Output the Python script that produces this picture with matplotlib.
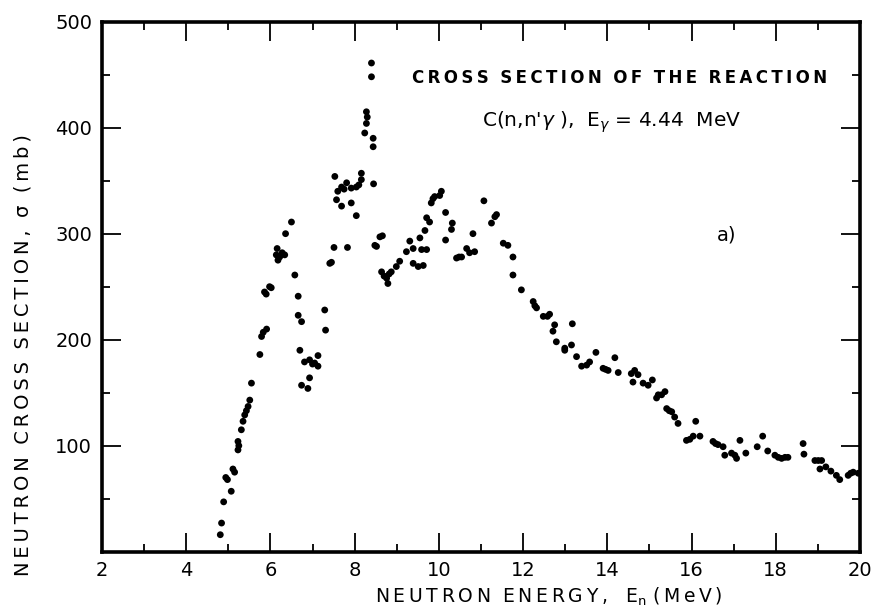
import matplotlib
matplotlib.use("Agg")
import matplotlib.pyplot as plt
from matplotlib.ticker import MultipleLocator

# 읽어낸 데이터 (중성자 에너지 MeV, 단면적 mb)
energy = [
    4.81, 4.84, 4.89, 4.94, 4.98, 5.07, 5.11, 5.15, 5.23, 5.23, 5.25, 5.31,
    5.35, 5.39, 5.43, 5.47, 5.51, 5.55, 5.75, 5.79, 5.83, 5.91, 5.86, 5.90,
    5.98, 6.02, 6.16, 6.14, 6.18, 6.22, 6.28, 6.34, 6.36, 6.50, 6.58, 6.66,
    6.66, 6.74, 6.70, 6.74, 6.81, 6.89, 6.93, 6.93, 7.00, 7.05, 7.13, 7.13,
    7.29, 7.31, 7.41, 7.45, 7.51, 7.53, 7.57, 7.60, 7.69, 7.69, 7.75, 7.81,
    7.83, 7.92, 7.92, 8.04, 8.04, 8.10, 8.16, 8.16, 8.24, 8.28, 8.28, 8.30,
    8.40, 8.40, 8.44, 8.44, 8.45, 8.48, 8.52, 8.60, 8.66, 8.64, 8.70, 8.79,
    8.76, 8.87, 8.82, 8.99, 9.07, 9.23, 9.31, 9.39, 9.39, 9.51, 9.55, 9.59,
    9.63, 9.67, 9.71, 9.71, 9.78, 9.82, 9.86, 9.90, 10.06, 10.02, 10.16, 10.16,
    10.30, 10.32, 10.42, 10.48, 10.54, 10.66, 10.73, 10.85, 10.81, 11.07, 11.25, 11.37,
    11.33, 11.53, 11.64, 11.76, 11.76, 11.96, 12.24, 12.28, 12.32, 12.48, 12.63, 12.58,
    12.71, 12.75, 12.79, 12.99, 12.99, 13.15, 13.17, 13.27, 13.39, 13.51, 13.58, 13.73,
    13.90, 13.96, 14.02, 14.18, 14.26, 14.57, 14.61, 14.65, 14.73, 14.85, 14.97, 15.07,
    15.17, 15.21, 15.29, 15.37, 15.41, 15.47, 15.53, 15.60, 15.68, 15.88, 15.96, 16.04,
    16.10, 16.20, 16.51, 16.57, 16.63, 16.75, 16.79, 16.95, 17.03, 17.07, 17.15, 17.29,
    17.56, 17.69, 17.81, 17.98, 18.06, 18.14, 18.22, 18.29, 18.65, 18.67, 18.93, 19.01,
    19.09, 19.05, 19.19, 19.31, 19.44, 19.52, 19.72, 19.78, 19.84, 19.96,
]
sigma = [
    16, 27, 47, 70, 68, 57, 78, 75, 96, 104, 100, 115,
    123, 129, 133, 137, 143, 159, 186, 203, 207, 210, 245, 243,
    250, 249, 286, 280, 275, 278, 282, 280, 300, 311, 261, 241,
    223, 217, 190, 157, 179, 154, 164, 181, 177, 178, 175, 185,
    228, 209, 272, 273, 287, 354, 332, 340, 326, 344, 342, 348,
    287, 343, 329, 344, 317, 346, 351, 357, 395, 404, 415, 410,
    448, 461, 382, 390, 347, 289, 288, 297, 298, 264, 260, 253,
    258, 264, 262, 269, 274, 283, 293, 286, 272, 269, 296, 285,
    270, 303, 285, 315, 311, 329, 333, 335, 340, 336, 320, 294,
    304, 310, 277, 278, 278, 286, 282, 283, 300, 331, 310, 318,
    316, 291, 289, 278, 261, 247, 236, 232, 230, 222, 224, 222,
    208, 214, 198, 192, 190, 195, 215, 184, 175, 176, 179, 188,
    173, 172, 171, 183, 169, 168, 160, 171, 167, 159, 157, 162,
    145, 148, 148, 151, 135, 133, 132, 127, 121, 105, 106, 109,
    123, 109, 104, 102, 101, 99, 91, 93, 91, 88, 105, 93,
    99, 109, 95, 91, 89, 88, 89, 89, 102, 92, 86, 86,
    86, 78, 80, 76, 72, 68, 72, 74, 75, 74,
]

x_ticks = [2, 4, 6, 8, 10, 12, 14, 16, 18, 20]
y_ticks = [100, 200, 300, 400, 500]


# 글자 사이를 넓게 (원본이 손글씨처럼 자간이 넓음)
def spaced(s):
    return '  '.join('\u2009'.join(w) for w in s.split(' '))


fig = plt.figure(figsize=(8.82, 6.14), dpi=100)
ax = fig.add_axes([0.1156, 0.1015, 0.8594, 0.8632])

ax.scatter(energy, sigma, s=24, color='black', edgecolors='none')

ax.set_xlim(2, 20)
ax.set_ylim(0, 500)
ax.set_xticks(x_ticks)
ax.set_yticks(y_ticks)
ax.xaxis.set_minor_locator(MultipleLocator(1))
ax.yaxis.set_minor_locator(MultipleLocator(50))
ax.tick_params(which='both', direction='in', top=True, right=True, width=1.3,
               labelsize=14)
ax.tick_params(which='major', length=14, pad=7)
ax.tick_params(which='minor', length=6)
for sp in ax.spines.values():
    sp.set_linewidth(2.6)

xlab = spaced('NEUTRON ENERGY,') + '   E$_\\mathregular{n}$ ' + spaced('(MeV)')
fig.text(723 / 882, 0.028, xlab, fontsize=13.5, ha='right', va='center')
ylab = spaced('NEUTRON CROSS SECTION,') + '  σ  ' + spaced('(mb)')
fig.text(0.026, (614 - 355) / 614, ylab, fontsize=14, rotation=90,
         ha='center', va='center')

# 그래프 안쪽 설명 문구
ax.text(9.36, 447, spaced('CROSS SECTION OF THE REACTION'), fontsize=12,
        fontweight='bold', va='center', ha='left')
line2 = "C(n,n'$\\gamma$ ),  E$_\\gamma$ = 4.44  MeV"
ax.text(11.02, 405, line2, fontsize=14.5, va='center', ha='left')
ax.text(16.6, 299, 'a)', fontsize=14, va='center', ha='left')

fig.savefig('out.png', dpi=100)
